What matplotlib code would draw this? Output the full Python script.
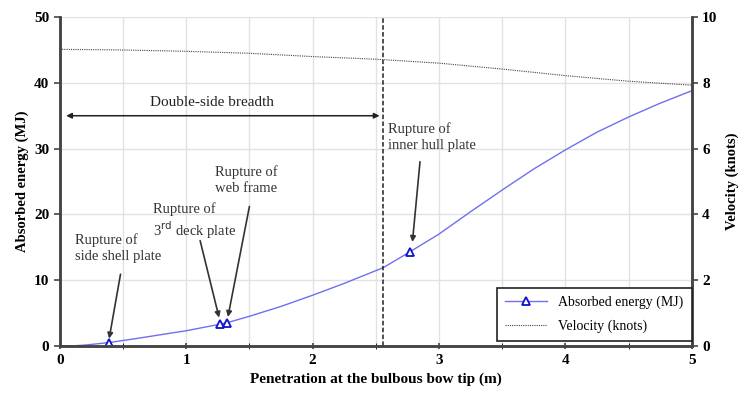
import matplotlib.pyplot as plt

plt.rcParams['font.family'] = ['Liberation Serif', 'DejaVu Serif']

# absorbed energy vs. penetration
pen = [0, 0.1, 0.2, 0.39, 0.6, 0.8, 1.0, 1.27, 1.32, 1.5, 1.75, 2.0, 2.25,
       2.56, 2.77, 3.0, 3.25, 3.5, 3.75, 4.0, 4.25, 4.5, 4.75, 5.0]
energy = [0, 0, 0.12, 0.5, 1.1, 1.7, 2.3, 3.3, 3.5, 4.5, 6.0, 7.7, 9.5,
          11.9, 14.3, 17.0, 20.4, 23.7, 26.9, 29.8, 32.5, 34.8, 36.9, 38.8]
rupture_idx = [3, 7, 8, 14]

# ship velocity vs. penetration
pen_v = [0, 0.5, 1.0, 1.5, 2.0, 2.5, 3.0, 3.5, 4.0, 4.5, 5.0]
velocity = [9.02, 9.0, 8.96, 8.9, 8.8, 8.72, 8.6, 8.42, 8.22, 8.05, 7.93]

inner_hull_x = 2.56

fig = plt.figure(figsize=(7.39, 3.98), dpi=100)
ax = fig.add_axes([0.081, 0.131, 0.855, 0.826])
ax2 = ax.twinx()

l1, = ax.plot(pen, energy, color='#6f6ff0', lw=1.0, marker='^', markevery=rupture_idx,
              ms=6, mfc='white', mec='#1010d0', mew=1.3, label='Absorbed energy (MJ)')
l2, = ax2.plot(pen_v, velocity, color='#444444', lw=0.8, ls=(0, (1, 1)),
               label='Velocity (knots)')

ax.set_xlim(0, 5)
ax.set_ylim(0, 50)
ax2.set_ylim(0, 10)
ax.set_xticks([0, 1, 2, 3, 4, 5])
ax.set_xticks([0.5, 1.5, 2.5, 3.5, 4.5], minor=True)
ax.set_yticks(range(0, 51, 10))
ax2.set_yticks(range(0, 11, 2))
ax.grid(True, which='both', color='#e2e2e2', lw=1.0)
ax.set_axisbelow(True)

for a in (ax, ax2):
    a.spines['top'].set_visible(False)
    for s in ('left', 'right', 'bottom'):
        a.spines[s].set_color('#444444')
        a.spines[s].set_linewidth(1.8)
    a.tick_params(labelsize=11, width=1.2, color='#444444')
    for lab in a.get_yticklabels() + a.get_xticklabels():
        lab.set_fontweight('bold')
ax.tick_params(axis='x', which='both', direction='inout', length=5)
ax.tick_params(axis='y', direction='out', length=4)
ax2.tick_params(axis='y', direction='out', length=4)

ax.set_xlabel('Penetration at the bulbous bow tip (m)', fontsize=11, fontweight='bold')
ax.set_ylabel('Absorbed energy (MJ)', fontsize=10.5, fontweight='bold', labelpad=4)
ax2.set_ylabel('Velocity (knots)', fontsize=10.5, fontweight='bold', labelpad=6)

# double-side breadth marker
ax.axvline(inner_hull_x, color='#222222', lw=1.1, ls=(0, (3, 1.5)))
ax.annotate('', xy=(0.05, 35), xytext=(inner_hull_x - 0.03, 35),
            arrowprops=dict(arrowstyle='<|-|>', color='#222222', lw=1.1,
                            mutation_scale=8, shrinkA=0, shrinkB=0))
ax.text(1.2, 37.0, 'Double-side breadth', fontsize=11, ha='center', va='center', color='#222222')

# rupture events
arrow = dict(arrowstyle='-|>', color='#333333', lw=1.2, mutation_scale=8, shrinkA=0, shrinkB=0)
txt = dict(fontsize=10.5, color='#333333', ha='left', va='top', linespacing=1.3)
ax.text(0.12, 17.2, 'Rupture of\nside shell plate', **txt)
ax.annotate('', xy=(0.39, 1.1), xytext=(0.48, 10.9), arrowprops=arrow)
ax.text(0.74, 21.8, 'Rupture of', **txt)
ax.text(0.74, 19.2, '3$^{\\mathrm{rd}}$ deck plate', **txt)
ax.annotate('', xy=(1.26, 4.3), xytext=(1.11, 16.0), arrowprops=arrow)
ax.text(1.23, 27.4, 'Rupture of\nweb frame', **txt)
ax.annotate('', xy=(1.33, 4.4), xytext=(1.50, 21.2), arrowprops=arrow)
ax.text(2.6, 34.0, 'Rupture of\ninner hull plate', **txt)
ax.annotate('', xy=(2.79, 15.8), xytext=(2.85, 28.0), arrowprops=arrow)

leg = ax2.legend([l1, l2], ['Absorbed energy (MJ)', 'Velocity (knots)'], loc='lower right',
                 bbox_to_anchor=(1.0, 0.015), borderaxespad=0, fontsize=10,
                 fancybox=False, framealpha=1, edgecolor='#222222', handlelength=3.0,
                 borderpad=0.6, labelspacing=0.7)
leg.get_frame().set_linewidth(1.2)

fig.savefig('out.png', dpi=100)
